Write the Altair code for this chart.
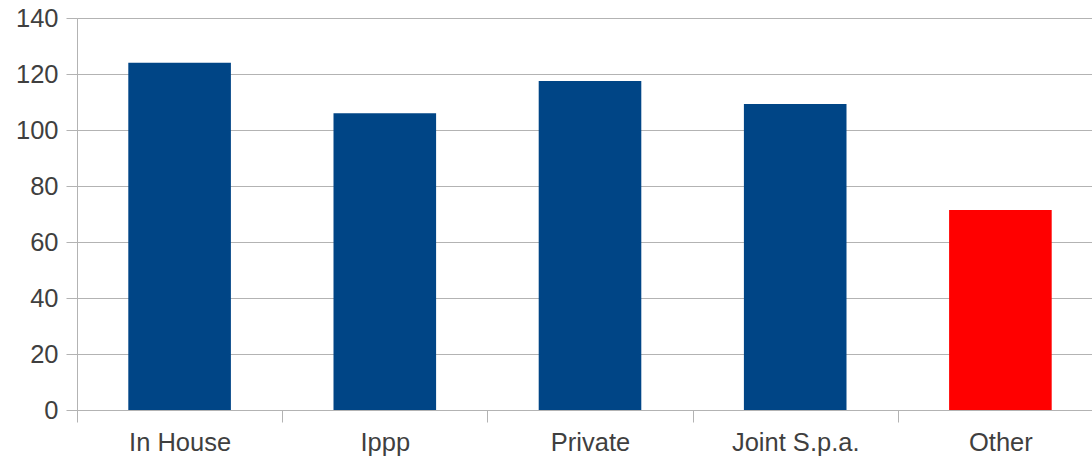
import altair as alt
import pandas as pd

# Category labels and bar values
categories = ["In House", "Ippp", "Private", "Joint S.p.a.", "Other"]
values = [124.0, 106.0, 117.5, 109.3, 71.4]
bar_colors = ["#004586", "#004586", "#004586", "#004586", "#ff0000"]

df = pd.DataFrame({"category": categories, "value": values})

FONT = "Liberation Sans"
TEXT = "#3f3f3f"
GRID = "#b3b3b3"

chart = (
    alt.Chart(df)
    .mark_bar(width=alt.RelativeBandSize(0.5))
    .encode(
        x=alt.X(
            "category:N",
            sort=categories,
            title=None,
            scale=alt.Scale(range=[0, 1026], paddingInner=0, paddingOuter=0),
            axis=alt.Axis(
                labelAngle=0,
                labelFont=FONT,
                labelFontSize=25.5,
                labelColor=TEXT,
                labelPadding=8,
                tickBand="extent",
                tickSize=12,
                tickColor=GRID,
                domainColor=GRID,
                grid=False,
            ),
        ),
        y=alt.Y(
            "value:Q",
            title=None,
            scale=alt.Scale(domain=[0, 140], nice=False),
            axis=alt.Axis(
                values=[0, 20, 40, 60, 80, 100, 120, 140],
                labelFont=FONT,
                labelFontSize=25.5,
                labelColor=TEXT,
                labelPadding=8,
                tickSize=11,
                tickColor=GRID,
                domainColor=GRID,
                gridColor=GRID,
                gridOpacity=1,
            ),
        ),
        color=alt.Color(
            "category:N",
            scale=alt.Scale(domain=categories, range=bar_colors),
            legend=None,
        ),
    )
    .properties(
        width=1015,
        height=392,
        autosize=alt.AutoSizeParams(type="none"),
        padding={"left": 77, "top": 18, "right": 0, "bottom": 49},
    )
    .configure_view(stroke=None)
    .configure(background="white")
)

chart.save("out.html", embed_options={"renderer": "svg", "actions": False})
